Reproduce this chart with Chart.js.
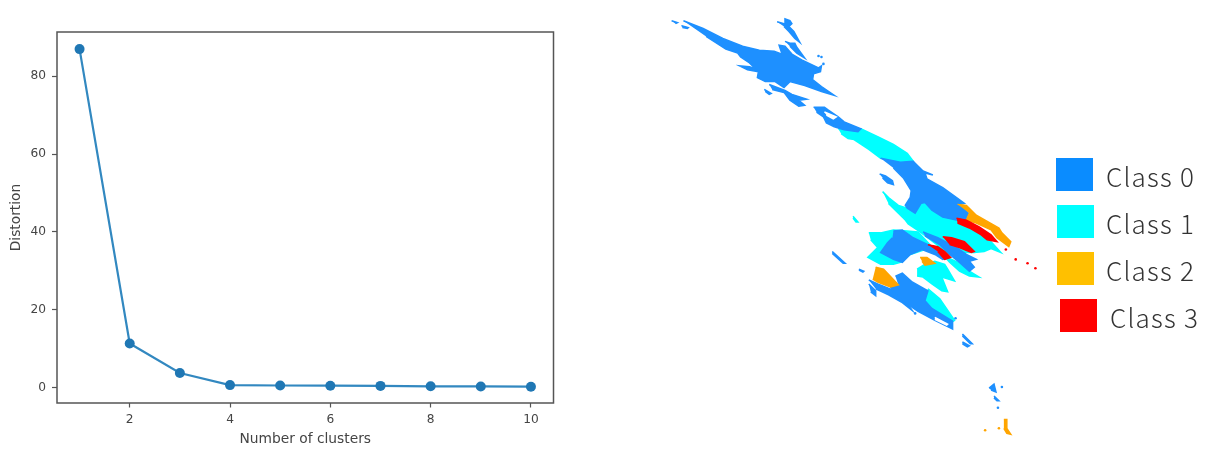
<!DOCTYPE html>
<html><head><meta charset="utf-8">
<style>
html,body{margin:0;padding:0;background:#fff;width:1209px;height:450px;overflow:hidden}
canvas{position:absolute;top:0}
#elbow{filter:blur(.5px)}
#map{filter:blur(.7px)}
#wrapL{position:absolute;left:0;top:0;width:640px;height:450px}
#wrapR{position:absolute;left:640px;top:0;width:569px;height:450px}
.sw{position:absolute;width:37px;height:33px}
.lb{position:absolute;font:300 26px "Noto Sans CJK JP","Noto Sans",sans-serif;color:#333;letter-spacing:1.2px;line-height:30px;white-space:nowrap;filter:blur(.3px)}
</style>
<script src="https://cdn.jsdelivr.net/npm/chart.js@4/dist/chart.umd.js"></script>
</head><body>
<div id="wrapL"><canvas id="elbow" width="640" height="450"></canvas></div>
<div id="wrapR"><canvas id="map" width="569" height="450"></canvas></div>
<div class="sw" style="left:1056px;top:158px;background:#0a8cff"></div><div class="lb" style="left:1106px;top:161px">Class 0</div>
<div class="sw" style="left:1057px;top:205px;background:#00ffff"></div><div class="lb" style="left:1106px;top:208px">Class 1</div>
<div class="sw" style="left:1057px;top:252px;background:#ffc000"></div><div class="lb" style="left:1106px;top:255px">Class 2</div>
<div class="sw" style="left:1060px;top:299px;background:#ff0000"></div><div class="lb" style="left:1110px;top:302px">Class 3</div>
<script>
const clusters=[1,2,3,4,5,6,7,8,9,10];
const distortion=[87,11.3,3.7,0.6,0.5,0.45,0.4,0.3,0.25,0.2];
const xTicks=[2,4,6,8,10];
const yTicks=[0,20,40,60,80];

// Regions, in image units
const blueMain=[[680,17],[700,25],[720,35],[740,43],[757,47],[772,48],[780,51],[777,42],[783,43],[790,51],[800,57],[817,65],[820,63],[819,69],[812,71],[811,77],[820,84],[833,93],[820,89],[803,83],[788,79],[782,85],[773,79],[763,79],[755,75],[756,69],[745,67],[737,63],[747,64],[753,66],[747,60],[738,54],[735,50],[723,46],[703,33]];
const blueTopA=[[775,18],[782,20],[783,15],[788,17],[790,20],[787,23],[792,28],[798,39],[793,35],[787,28],[782,23]];
const blueTopB=[[783,38],[788,40],[793,40],[795,44],[803,55],[795,50],[788,43]];
const blueChip=[[678,22],[685,24],[684,25],[679,24]];
const blueStreak0=[[668,17],[674,19],[672,20]];
const blueLowA=[[762,87],[769,91],[767,92],[763,89]];
const blueLowB=[[767,82],[783,88],[790,92],[805,97],[797,98],[803,103],[797,104],[788,98],[782,90],[770,87]];
const blueStrip=[[812,105],[823,105],[827,108],[837,115],[843,120],[860,127],[857,130],[843,128],[833,125],[825,121],[822,115],[815,110]];
const blueMid=[[880,157],[900,161],[913,160],[923,170],[933,174],[925,172],[927,178],[943,187],[957,197],[965,203],[960,204],[969,213],[966,220],[957,220],[943,217],[932,210],[925,202],[921,203],[915,213],[907,208],[905,205],[910,197],[911,190],[903,177],[893,167]];
const blueCurl=[[879,173],[885,175],[892,180],[893,184],[887,182],[882,177]];
const blueDiag=[[923,232],[938,238],[957,248],[967,255],[977,260],[970,262],[975,268],[970,272],[960,263],[950,255],[940,245],[925,236]];
const blueBlob=[[893,231],[902,230],[913,238],[928,245],[938,248],[950,258],[943,260],[935,255],[922,250],[910,255],[902,263],[893,260],[880,253],[887,243],[892,238]];
const blueLower=[[895,277],[902,274],[912,283],[928,292],[925,302],[932,310],[953,323],[953,331],[947,328],[935,322],[918,313],[905,304],[893,293],[890,288],[898,286]];
const blueUnder=[[868,281],[877,285],[892,291],[905,302],[912,312],[902,304],[888,296],[875,290]];
const blueBitA=[[868,285],[875,292],[875,297],[870,293]];
const blueBitB=[[831,252],[844,264],[842,264],[831,254]];
const blueBitC=[[858,270],[863,272],[862,273],[858,271]];
const blueBitD=[[963,336],[973,346],[971,346],[963,338]];
const blueBitE=[[963,344],[970,348],[968,349],[963,346]];
const blueBitF=[[990,391],[995,387],[997,395],[992,393]];
const blueBitG=[[995,399],[1000,404],[998,404],[995,401]];
const cyanTop=[[837,127],[860,127],[877,135],[893,143],[907,152],[913,160],[900,161],[880,157],[868,148],[853,138],[847,137],[840,132]];
const cyanBand=[[882,191],[888,197],[898,205],[907,208],[915,212],[921,203],[925,202],[932,210],[943,217],[957,220],[970,228],[985,238],[990,240],[1002,253],[992,249],[985,252],[975,253],[963,253],[950,255],[937,245],[920,232],[908,224],[905,220],[897,212],[888,203]];
const cyanCentre=[[917,270],[925,265],[935,262],[945,265],[948,270],[955,282],[942,278],[948,293],[942,292],[932,285],[923,278],[917,277]];
const cyanTip=[[960,263],[970,272],[980,278],[970,277],[960,272],[950,263],[943,255]];
const cyanBlob=[[868,233],[880,233],[893,230],[907,231],[918,232],[930,245],[925,250],[910,255],[900,263],[893,265],[880,265],[867,258],[877,248],[870,240]];
const cyanLower=[[928,290],[940,300],[955,322],[952,324],[932,310],[925,302]];
const cyanBit=[[852,216],[857,222],[855,222],[852,218]];
const orangeUpper=[[958,204],[967,205],[977,215],[1000,228],[1003,233],[1012,242],[1010,247],[998,238],[992,230],[977,223],[967,220],[970,213]];
const orangeMid=[[920,258],[927,258],[935,264],[925,266],[922,262]];
const orangeLeft=[[875,268],[883,270],[898,286],[890,288],[877,283],[872,280]];
const orangeFoot=[[1005,423],[1008,423],[1008,432],[1012,438],[1008,437],[1005,432]];
const redUpper=[[957,218],[967,220],[980,227],[992,235],[998,242],[988,240],[982,235],[970,228],[958,223]];
const redMid=[[943,237],[952,238],[965,242],[970,247],[975,252],[972,253],[960,248],[950,245]];
const redSmall=[[928,245],[938,247],[945,252],[951,258],[945,260],[938,252]];
const gapStrip=[[823,110],[835,115],[832,117],[825,113]];
const gapLower=[[935,319],[948,326],[947,327],[935,321]];
const blueDots=[[817,53],[820,54],[822,61],[1003,390],[999,411],[915,315],[956,320]];
const orangeDots=[[986,434],[1000,432]];
const redDots=[[1007,250],[1017,260],[1029,264],[1037,269]];

const cBlue='#1e90ff',cCyan='#00ffff',cOrange='#ffa500',cRed='#ff0000';
const regions=[
 [cyanTop,cCyan,5],[cyanBand,cCyan,5],[cyanCentre,cCyan,5],[cyanTip,cCyan,5],[cyanBlob,cCyan,5],[cyanLower,cCyan,5],[cyanBit,cCyan,5],
 [blueMain,cBlue,4],[blueTopA,cBlue,4],[blueTopB,cBlue,4],[blueChip,cBlue,4],[blueStreak0,cBlue,4],[blueLowA,cBlue,4],[blueLowB,cBlue,4],[blueStrip,cBlue,4],[blueMid,cBlue,4],[blueCurl,cBlue,4],[blueDiag,cBlue,4],[blueBlob,cBlue,4],[blueLower,cBlue,4],[blueUnder,cBlue,4],[blueBitA,cBlue,4],[blueBitB,cBlue,4],[blueBitC,cBlue,4],[blueBitD,cBlue,4],[blueBitE,cBlue,4],[blueBitF,cBlue,4],[blueBitG,cBlue,4],
 [orangeUpper,cOrange,3],[orangeMid,cOrange,3],[orangeLeft,cOrange,3],[orangeFoot,cOrange,3],
 [redUpper,cRed,2],[redMid,cRed,2],[redSmall,cRed,2],
 [gapStrip,'#ffffff',1],[gapLower,'#ffffff',1]
];
const toXY=a=>a.map(p=>({x:p[0],y:p[1]}));
const mapSets=regions.map(([a,c,o])=>({type:'line',data:toXY(a),borderColor:c,backgroundColor:c,borderWidth:1.5,fill:'shape',pointRadius:0,tension:0,order:o}));
[[blueDots,cBlue],[orangeDots,cOrange],[redDots,cRed]].forEach(([a,c])=>mapSets.push({type:'scatter',data:toXY(a),backgroundColor:c,borderWidth:0,pointRadius:1.3,order:0}));

const frame={id:'frame',afterDatasetsDraw(ch){const a=ch.chartArea,g=ch.ctx;g.save();g.strokeStyle='#555';g.lineWidth=1.5;g.strokeRect(a.left,a.top,a.width,a.height);g.restore();}};
const tickFont={family:'"DejaVu Sans"',size:12.2};
const titleFont={family:'"DejaVu Sans"',size:13.8};
const common={responsive:false,animation:false,events:[],plugins:{legend:{display:false},tooltip:{enabled:false}}};
const keep=list=>s=>{s.ticks=list.map(v=>({value:v}));};

new Chart(document.getElementById('elbow'),{type:'line',plugins:[frame],
 data:{datasets:[{data:clusters.map((c,i)=>({x:c,y:distortion[i]})),borderColor:'#3288c0',backgroundColor:'#1f77b4',pointBackgroundColor:'#1f77b4',pointBorderWidth:0,borderWidth:2.2,pointRadius:5,tension:0,clip:false}]},
 options:{...common,layout:{padding:{left:0,top:32,right:86.5,bottom:0}},
  scales:{
   x:{type:'linear',min:.55,max:10.45,afterBuildTicks:keep(xTicks),ticks:{color:'#444',font:tickFont,padding:5,maxRotation:0},
      grid:{drawOnChartArea:false,tickLength:4.5,tickColor:'#555',tickWidth:1.2},border:{display:false},
      title:{display:true,text:'Number of clusters',color:'#444',font:titleFont,padding:{top:0,bottom:2.7}},
      afterFit(s){s.height=47;}},
   y:{min:-4,max:91.4,afterBuildTicks:keep(yTicks),ticks:{color:'#444',font:tickFont,padding:6},
      grid:{drawOnChartArea:false,tickLength:5,tickColor:'#555',tickWidth:1.2},border:{display:false},
      title:{display:true,text:'Distortion',color:'#444',font:titleFont,padding:{top:7.7,bottom:0}},
      afterFit(s){s.width=57;}}
  }}});

new Chart(document.getElementById('map'),{type:'scatter',
 data:{datasets:mapSets},
 options:{...common,layout:{padding:0},
  scales:{x:{type:'linear',min:640,max:1209,display:false},y:{type:'linear',min:0,max:450,reverse:true,display:false}}}});
</script>
</body></html>
